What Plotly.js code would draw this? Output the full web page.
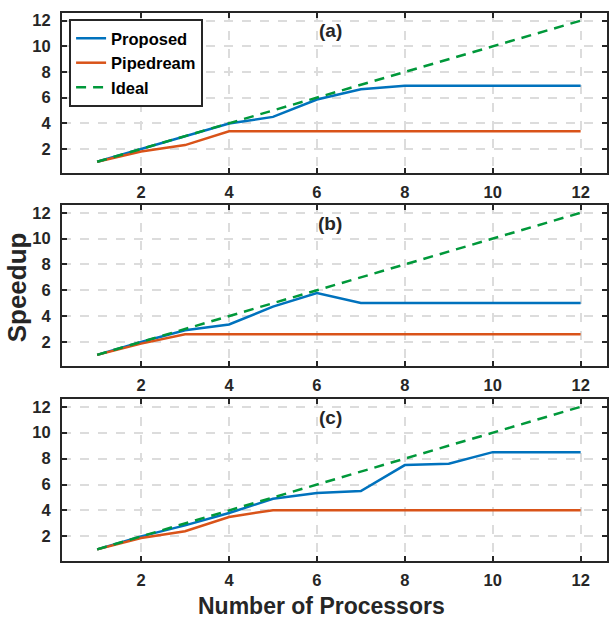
<!DOCTYPE html>
<html>
<head>
<meta charset="utf-8">
<script src="https://cdn.plot.ly/plotly-3.0.1.min.js"></script>
<style>html,body{margin:0;padding:0;background:#fff;}#chart{width:610px;height:618px;}</style>
</head>
<body>
<div id="chart"></div>
<script>
// Data
const processors = [1,2,3,4,5,6,7,8,9,10,11,12];
const ideal = [1,2,3,4,5,6,7,8,9,10,11,12];
const proposedA = [1,2.0,2.95,3.98,4.5,5.85,6.65,6.92,6.92,6.92,6.92,6.92];
const pipedreamA = [1,1.8,2.3,3.38,3.38,3.38,3.38,3.38,3.38,3.38,3.38,3.38];
const proposedB = [1,2.0,2.9,3.35,4.73,5.78,5.02,5.02,5.02,5.02,5.02,5.02];
const pipedreamB = [1,1.87,2.6,2.6,2.6,2.6,2.6,2.6,2.6,2.6,2.6,2.6];
const proposedC = [1,2.0,2.85,3.8,4.9,5.35,5.5,7.5,7.6,8.5,8.5,8.5];
const pipedreamC = [1,1.87,2.4,3.5,4.02,4.02,4.02,4.02,4.02,4.02,4.02,4.02];
const panelLabels = ['(a)','(b)','(c)'];
const seriesNames = ['Proposed','Pipedream','Ideal'];
const tickVals = [2,4,6,8,10,12];

const cBlue = '#0072BD', cOrange = '#D95319', cGreen = '#00983A';
const FAM = 'Liberation Sans, Arial, sans-serif';
const panels = [[proposedA,pipedreamA],[proposedB,pipedreamB],[proposedC,pipedreamC]];
const traces = [];
panels.forEach((p,i)=>{
  const xa = i===0?'x':'x'+(i+1), ya = i===0?'y':'y'+(i+1);
  traces.push({x:processors,y:p[0],type:'scatter',mode:'lines',name:seriesNames[0],xaxis:xa,yaxis:ya,
    line:{color:cBlue,width:2.5},showlegend:i===0});
  traces.push({x:processors,y:p[1],type:'scatter',mode:'lines',name:seriesNames[1],xaxis:xa,yaxis:ya,
    line:{color:cOrange,width:2.5},showlegend:i===0});
  traces.push({x:processors,y:ideal,type:'scatter',mode:'lines',name:seriesNames[2],xaxis:xa,yaxis:ya,
    line:{color:cGreen,width:2.5,dash:'10px,7px'},showlegend:i===0});
});

const font = {family:FAM,size:16.5,color:'#262626',weight:'bold'};
function xax(anchor){
  return {anchor:anchor,range:[0.2,12.6],tickvals:tickVals,ticks:'inside',ticklen:5,tickwidth:2,tickcolor:'#262626',
    showline:true,linecolor:'#262626',linewidth:2,mirror:'ticks',showgrid:true,gridcolor:'#dcdcdc',gridwidth:2,griddash:'dash',
    zeroline:false,tickfont:font,ticklabelstandoff:3};
}
function yax(anchor,domain){
  return {anchor:anchor,domain:domain,range:[0.1,12.6],tickvals:tickVals,ticks:'inside',ticklen:5,tickwidth:2,tickcolor:'#262626',
    showline:true,linecolor:'#262626',linewidth:2,mirror:'ticks',showgrid:true,gridcolor:'#dcdcdc',gridwidth:2,griddash:'dash',
    zeroline:false,tickfont:font,ticklabelstandoff:6};
}
const layout = {
  width:610,height:618,margin:{l:62,r:3,t:13,b:57},
  paper_bgcolor:'#fff',plot_bgcolor:'#fff',showlegend:true,
  font:font,
  xaxis:xax('y'),yaxis:yax('x',[0.7075,1]),
  xaxis2:xax('y2'),yaxis2:yax('x2',[0.355,0.6496]),
  xaxis3:xax('y3'),yaxis3:yax('x3',[0,0.2956]),
  legend:{x:0.013,y:0.989,xanchor:'left',yanchor:'top',bgcolor:'#fff',bordercolor:'#262626',borderwidth:2,
    font:{family:FAM,size:16.5,color:'#000',weight:'bold'},tracegroupgap:0,itemwidth:30},
  annotations:[
    ...panelLabels.map((t,i)=>({text:t,x:6.3,y:11.2,xref:i===0?'x':'x'+(i+1),yref:i===0?'y':'y'+(i+1),showarrow:false,
      font:{family:FAM,size:19,color:'#262626',weight:'bold'}})),
    {text:'Speedup',xref:'paper',yref:'paper',x:-0.082,y:0.5,xanchor:'center',yanchor:'middle',textangle:-90,showarrow:false,
      font:{family:FAM,size:26,color:'#262626',weight:'bold'}},
    {text:'Number of Processors',xref:'paper',yref:'paper',x:0.477,y:-0.082,xanchor:'center',yanchor:'middle',showarrow:false,
      font:{family:FAM,size:23,color:'#262626',weight:'bold'}}
  ]
};
Plotly.newPlot('chart',traces,layout,{staticPlot:true,displayModeBar:false});
</script>
</body>
</html>
